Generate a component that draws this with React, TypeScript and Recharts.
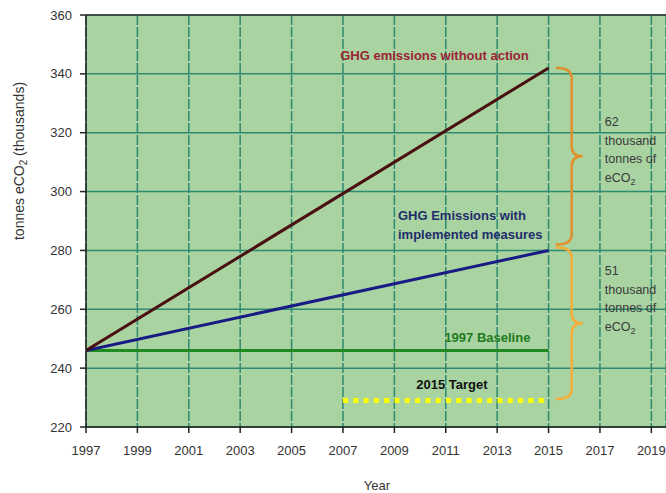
import React from "react";
import {
  LineChart,
  Line,
  XAxis,
  YAxis,
  CartesianGrid,
  ReferenceLine,
  ReferenceDot,
} from "recharts";

// Years on the horizontal axis
const yearTicks = [1997, 1999, 2001, 2003, 2005, 2007, 2009, 2011, 2013, 2015, 2017, 2019];
const valueTicks = [220, 240, 260, 280, 300, 320, 340, 360];

// Emission trajectories (thousand tonnes eCO2)
const trendYears = [1997, 2015];
const noActionValues = [246, 342];
const measuresValues = [246, 280];
const baselineValues = [246, 246];

const targetYears = [2007, 2015];
const targetValues = [229, 229];

// Gaps shown by the braces
const gapNoActionVsMeasures = 62;
const gapMeasuresVsTarget = 51;

const toPoints = (xs: number[], ys: number[]) => xs.map((x, i) => ({ year: x, value: ys[i] }));

const noActionData = toPoints(trendYears, noActionValues);
const measuresData = toPoints(trendYears, measuresValues);
const baselineData = toPoints(trendYears, baselineValues);
const targetData = toPoints(targetYears, targetValues);

const FONT = "'Liberation Sans', Arial, sans-serif";

// Curly brace drawn along a vertical segment, pointing right
const Brace = (props: any) => {
  const { x1, y1, y2, color } = props;
  const x = x1;
  const top = Math.min(y1, y2);
  const bot = Math.max(y1, y2);
  const mid = (top + bot) / 2;
  const hook = 15;
  const tip = 11;
  const r = 10;
  const d = [
    `M ${x - hook} ${top}`,
    `Q ${x} ${top} ${x} ${top + r}`,
    `L ${x} ${mid - r}`,
    `Q ${x} ${mid} ${x + tip} ${mid}`,
    `Q ${x} ${mid} ${x} ${mid + r}`,
    `L ${x} ${bot - r}`,
    `Q ${x} ${bot} ${x - hook} ${bot}`,
  ].join(" ");
  return <path d={d} fill="none" stroke={color} strokeWidth={2.5} strokeLinecap="round" />;
};

const makeText =
  (lines: string[], color: string, weight: string, anchor: string, lineGap = 18.5) =>
  (p: any) =>
    (
      <text
        x={p.cx}
        y={p.cy}
        fill={color}
        fontFamily={FONT}
        fontSize={13}
        fontWeight={weight}
        textAnchor={anchor}
        dominantBaseline="central"
      >
        {lines.map((ln, i) => (
          <tspan key={i} x={p.cx} dy={i === 0 ? 0 : lineGap}>
            {ln}
          </tspan>
        ))}
      </text>
    );

// Note like "62 thousand tonnes of eCO2" with a subscript 2
const gapNote = (amount: number) => (p: any) =>
  (
    <text x={p.cx} y={p.cy} fill="#3a3a3a" fontFamily={FONT} fontSize={12.5} dominantBaseline="central">
      <tspan x={p.cx}>{amount}</tspan>
      <tspan x={p.cx} dy={18.7}>thousand</tspan>
      <tspan x={p.cx} dy={18.7}>tonnes of</tspan>
      <tspan x={p.cx} dy={18.7}>eCO</tspan>
      <tspan dy={4} fontSize={9}>2</tspan>
    </text>
  );

const YTitle = () => (
  <text
    x={19}
    y={161}
    transform="rotate(-90, 19, 161)"
    textAnchor="middle"
    dominantBaseline="central"
    fill="#333"
    fontFamily={FONT}
    fontSize={14}
  >
    tonnes eCO
    <tspan dy={4} fontSize={10}>2</tspan>
    <tspan dy={-4}> (thousands)</tspan>
  </text>
);

const XTitle = () => (
  <text x={377} y={485} textAnchor="middle" dominantBaseline="central" fill="#333" fontFamily={FONT} fontSize={13}>
    Year
  </text>
);

const tickStyle = { fill: "#333", fontSize: 13, fontFamily: FONT };

export default function App() {
  return (
    <div style={{ position: "absolute", left: 0, top: 0, width: 666, height: 493, background: "#fff" }}>
      <LineChart width={666} height={493} margin={{ top: 15, right: 0, bottom: 0, left: 0 }}>
        <CartesianGrid vertical={false} stroke="#2E8A71" strokeWidth={1.5} fill="#A9D3A1" />
        <CartesianGrid horizontal={false} stroke="#2E8A71" strokeWidth={1.5} strokeDasharray="10 2" />
        <XAxis
          dataKey="year"
          type="number"
          domain={[1997, 2019.57]}
          ticks={yearTicks}
          allowDataOverflow
          height={66}
          tick={tickStyle}
          tickSize={6}
          tickMargin={13}
          axisLine={{ stroke: "#222", strokeWidth: 1.5 }}
          tickLine={{ stroke: "#222", strokeWidth: 1.5 }}
          label={<XTitle />}
        />
        <YAxis
          type="number"
          domain={[220, 360]}
          ticks={valueTicks}
          width={86}
          tick={tickStyle}
          tickSize={6}
          tickMargin={8}
          axisLine={{ stroke: "#222", strokeWidth: 1.5 }}
          tickLine={{ stroke: "#222", strokeWidth: 1.5 }}
          label={<YTitle />}
        />
        <ReferenceLine y={360} stroke="#333" strokeWidth={1.5} />

        <Line data={baselineData} dataKey="value" stroke="#1F8A1F" strokeWidth={3} dot={false} isAnimationActive={false} />
        <Line data={measuresData} dataKey="value" stroke="#1A1A85" strokeWidth={3} dot={false} isAnimationActive={false} />
        <Line data={noActionData} dataKey="value" stroke="#4A0F10" strokeWidth={3} dot={false} isAnimationActive={false} />
        <Line
          data={targetData}
          dataKey="value"
          stroke="#FFFF00"
          strokeWidth={5}
          strokeDasharray="5 5.3"
          dot={false}
          isAnimationActive={false}
        />

        <ReferenceLine
          segment={[
            { x: 2015.9, y: noActionValues[1] },
            { x: 2015.9, y: noActionValues[1] - gapNoActionVsMeasures + 2 },
          ]}
          shape={(p: any) => <Brace {...p} color="#E0902C" />}
        />
        <ReferenceLine
          segment={[
            { x: 2015.9, y: measuresValues[1] + 1 },
            { x: 2015.9, y: measuresValues[1] - gapMeasuresVsTarget + 0.5 },
          ]}
          shape={(p: any) => <Brace {...p} color="#F4AE3A" />}
        />

        <ReferenceDot
          x={2010.56}
          y={346.4}
          r={0}
          shape={makeText(["GHG emissions without action"], "#9B2335", "bold", "middle")}
        />
        <ReferenceDot
          x={2009.14}
          y={292.2}
          r={0}
          shape={makeText(["GHG Emissions with", "implemented measures"], "#1F2D6B", "bold", "start", 19.5)}
        />
        <ReferenceDot x={2012.62} y={250.7} r={0} shape={makeText(["1997 Baseline"], "#1E7B1E", "bold", "middle")} />
        <ReferenceDot x={2011.24} y={234.6} r={0} shape={makeText(["2015 Target"], "#111", "bold", "middle")} />
        <ReferenceDot x={2017.19} y={323.7} r={0} shape={gapNote(gapNoActionVsMeasures)} />
        <ReferenceDot x={2017.19} y={273} r={0} shape={gapNote(gapMeasuresVsTarget)} />
      </LineChart>
    </div>
  );
}
